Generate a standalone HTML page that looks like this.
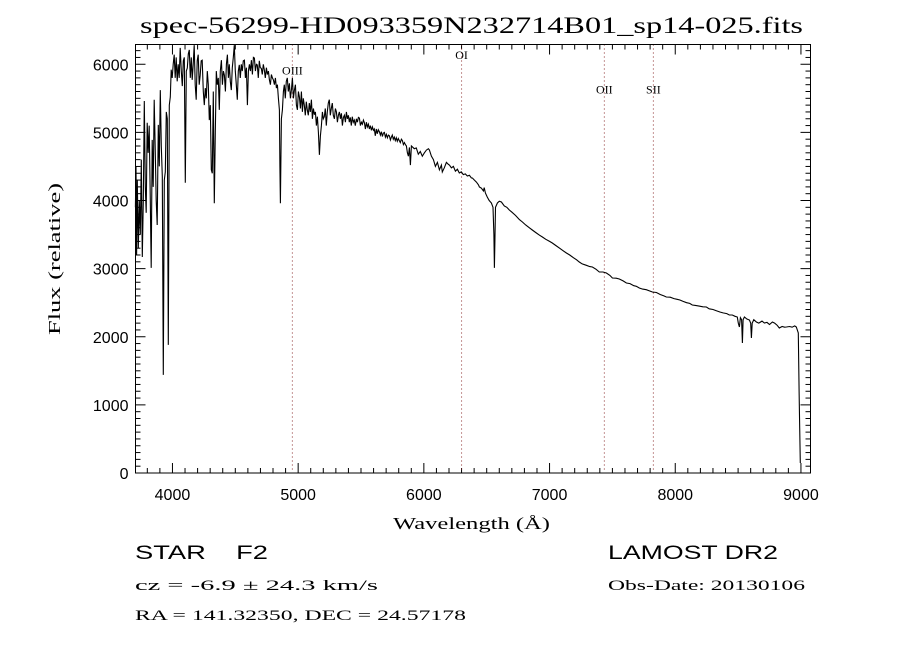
<!DOCTYPE html>
<html><head><meta charset="utf-8"><style>
html,body{margin:0;padding:0;background:#fff;}
svg{display:block;}
text{fill:#000;}
.serif{font-family:"Liberation Serif",serif;}
.sans{font-family:"Liberation Sans",sans-serif;}
</style></head><body>
<svg id="chart" width="900" height="650" viewBox="0 0 900 650" xmlns="http://www.w3.org/2000/svg">
<rect width="900" height="650" fill="#fff"/>
<text class="serif" x="140" y="33" font-size="23" textLength="663" lengthAdjust="spacingAndGlyphs">spec-56299-HD093359N232714B01_sp14-025.fits</text>
<text class="serif" x="0" y="0" font-size="17" text-anchor="middle" textLength="152" lengthAdjust="spacingAndGlyphs" transform="translate(60,259) rotate(-90)">Flux (relative)</text>
<text class="serif" x="393" y="529" font-size="17" textLength="157" lengthAdjust="spacingAndGlyphs">Wavelength (Å)</text>
<g id="axes"></g>
<g id="lines"></g>
<g id="series"></g>
<rect x="135.5" y="44.5" width="675" height="428.5" fill="none" stroke="#000" stroke-width="1"/>
<text class="sans" x="135" y="559" font-size="19" textLength="133" lengthAdjust="spacingAndGlyphs">STAR&#160;&#160;&#160;&#160;F2</text>
<text class="serif" x="135" y="590" font-size="15" textLength="243" lengthAdjust="spacingAndGlyphs">cz = -6.9 ± 24.3 km/s</text>
<text class="serif" x="135" y="620" font-size="15" textLength="331" lengthAdjust="spacingAndGlyphs">RA = 141.32350, DEC =  24.57178</text>
<text class="sans" x="608" y="559" font-size="19" textLength="170" lengthAdjust="spacingAndGlyphs">LAMOST DR2</text>
<text class="serif" x="608" y="590" font-size="15" textLength="197" lengthAdjust="spacingAndGlyphs">Obs-Date: 20130106</text>
</svg>
<script>
const xTicks = [4000,5000,6000,7000,8000,9000];
const yTicks = [0,1000,2000,3000,4000,5000,6000];
const lineNames = ["OIII","OI","OII","SII"];
const lineWaves = [4954,6300,7436,7826];
const lineLabelFlux = [5850,6080,5570,5570];
const wl = [3705,3710,3715,3720,3728,3736,3744,3752,3760,3768,3776,3784,3791,3799,3807,3815,3823,3831,3839,3847,3855,3863,3871,3879,3887,3895,3903,3911,3919,3927,3935,3943,3951,3959,3967,3975,3983,3990,3998,4006,4014,4022,4030,4038,4046,4054,4062,4070,4078,4086,4094,4102,4110,4118,4126,4134,4142,4150,4157,4165,4173,4181,4189,4197,4205,4213,4221,4229,4237,4245,4253,4261,4269,4277,4285,4293,4301,4309,4317,4325,4333,4341,4349,4357,4365,4373,4381,4389,4397,4405,4413,4421,4429,4437,4445,4452,4460,4468,4476,4484,4492,4500,4508,4516,4524,4532,4540,4548,4556,4564,4572,4580,4588,4596,4604,4612,4620,4628,4636,4644,4652,4660,4668,4675,4683,4691,4699,4707,4715,4723,4731,4739,4747,4755,4763,4771,4779,4787,4795,4803,4811,4819,4827,4835,4843,4851,4855,4859,4863,4867,4875,4883,4890,4898,4906,4914,4922,4930,4938,4946,4954,4962,4970,4978,4986,4994,5002,5010,5018,5026,5034,5041,5049,5057,5065,5073,5081,5089,5097,5105,5113,5121,5129,5137,5145,5153,5161,5169,5177,5185,5193,5200,5208,5216,5224,5232,5240,5248,5256,5264,5272,5280,5288,5296,5304,5312,5320,5328,5336,5344,5352,5360,5368,5376,5384,5392,5400,5407,5415,5423,5431,5439,5447,5455,5463,5471,5479,5487,5495,5503,5511,5519,5527,5535,5543,5551,5559,5567,5575,5583,5591,5599,5606,5614,5622,5630,5638,5646,5654,5662,5670,5678,5686,5694,5702,5710,5718,5726,5734,5742,5749,5757,5765,5773,5781,5789,5797,5805,5813,5821,5829,5837,5845,5853,5861,5869,5877,5885,5893,5901,5924,5940,5956,5972,5988,6004,6020,6036,6044,6060,6076,6092,6108,6124,6140,6147,6163,6179,6195,6203,6219,6235,6251,6267,6282,6298,6314,6330,6346,6362,6378,6386,6402,6418,6434,6442,6458,6474,6480,6490,6505,6520,6537,6550,6557,6561,6565,6570,6585,6600,6617,6640,6660,6680,6700,6730,6760,6784,6810,6840,6863,6890,6920,6943,6970,7000,7022,7050,7080,7110,7134,7160,7190,7215,7237,7260,7290,7320,7341,7370,7396,7425,7452,7480,7500,7530,7555,7585,7611,7640,7670,7690,7714,7740,7770,7800,7818,7850,7880,7910,7929,7960,7990,8015,8037,8060,8090,8115,8136,8160,8190,8220,8248,8270,8300,8330,8355,8380,8410,8430,8454,8475,8494,8502,8510,8518,8528,8534,8540,8550,8570,8590,8600,8606,8612,8625,8646,8665,8690,8709,8730,8750,8773,8790,8810,8828,8850,8870,8884,8910,8930,8950,8963,8979,8985,8990,8995];
const flux = [3900,4500,3200,4300,3300,4000,3500,4600,3170,4000,5460,4200,3820,5140,4700,5100,4100,3010,4890,4200,5480,4770,4000,3640,5110,4500,5620,4800,4350,1440,4300,4420,5300,5200,1880,5400,5520,5920,5800,6000,6140,5800,6100,5750,6000,5800,6240,5900,5680,6050,6100,4260,5900,5945,6150,6210,5800,6100,5770,6000,6280,5700,5480,6050,6140,5700,5840,6050,6060,5600,5400,5650,5500,5900,5700,5180,5400,4450,4400,5600,3960,5000,5900,5700,5800,5330,5900,6060,5700,5900,5840,5600,6000,6140,5800,6000,5750,5620,5950,6100,6280,5900,5700,5480,5900,5990,5800,6000,5900,6050,6060,5800,5950,5400,5900,6000,5900,6060,5850,6100,6090,5900,6000,5990,5800,6050,5950,5940,5850,6000,5920,5800,5950,5850,5900,5770,5700,5850,5800,5770,5700,5800,5650,5700,5500,5330,4500,3960,4600,5200,5330,5600,5700,5500,5750,5800,5600,5720,5500,5620,5800,5500,5620,5700,5400,5330,5600,5520,5350,5600,5300,5500,5400,5250,5450,5330,5250,5430,5300,5480,5200,5350,5260,5300,5100,5230,5000,4670,4950,5100,5300,5200,5230,5350,5100,5300,5430,5480,5250,5350,5430,5250,5200,5350,5300,5150,5250,5300,5200,5280,5100,5220,5250,5150,5300,5200,5250,5150,5220,5100,5230,5150,5180,5100,5200,5150,5220,5210,5100,5150,5120,5180,5140,5050,5150,5080,5120,5050,5100,5030,5080,5030,5050,4950,5050,4980,5040,5010,4960,5010,4940,4990,5000,4930,4970,4920,4960,4950,4890,4930,4960,4900,4930,4880,4920,4870,4910,4880,4850,4900,4880,4820,4850,4820,4800,4700,4650,4780,4520,4800,4760,4770,4680,4720,4650,4700,4740,4760,4742,4650,4600,4500,4560,4450,4520,4419,4480,4560,4530,4521,4480,4500,4430,4460,4404,4420,4380,4390,4360,4370,4330,4331,4300,4270,4230,4198,4180,4140,4190,4110,4050,4000,3964,3900,3500,3010,3400,3900,3964,3990,3978,3920,3900,3861,3830,3780,3720,3685,3640,3600,3567,3530,3490,3464,3430,3400,3376,3340,3300,3260,3230,3200,3160,3130,3097,3070,3050,3030,3024,2990,2951,2950,2936,2900,2863,2860,2848,2820,2789,2780,2750,2740,2716,2700,2690,2670,2657,2650,2620,2600,2584,2580,2560,2550,2540,2520,2500,2490,2466,2460,2450,2440,2437,2410,2400,2380,2363,2350,2340,2320,2319,2300,2290,2200,2143,2280,2250,1908,2250,2290,2260,2246,2200,1982,2200,2250,2217,2200,2230,2202,2210,2180,2217,2200,2170,2129,2150,2140,2143,2150,2140,2160,2143,2055,1200,660,147];

const X0=135.5, X1=810.5, Y0=473, Y1=44.5;
const xMin=3706, xMax=9076, yMin=0, yMax=6290;
function xs(w){return X0+(w-xMin)/(xMax-xMin)*(X1-X0);}
function ys(f){return Y0-(f-yMin)/(yMax-yMin)*(Y0-Y1);}
const NS='http://www.w3.org/2000/svg';
function mk(tag,attrs,parent){const e=document.createElementNS(NS,tag);for(const k in attrs)e.setAttribute(k,attrs[k]);parent.appendChild(e);return e;}

const axes=document.getElementById('axes');
for(let w=3800; w<=9000; w+=100){
  const x=xs(w); const major=(w%1000===0); const L=major?10:5;
  const t1=mk('line',{x1:x,x2:x,y1:Y0,y2:Y0-L,stroke:'#000','stroke-width':1},axes);
  
  
  const t2=mk('line',{x1:x,x2:x,y1:Y1,y2:Y1+L,stroke:'#000','stroke-width':1},axes);
  
  
}
xTicks.forEach(v=>{
  const t=mk('text',{x:xs(v),y:Y0+27,'font-size':16,'text-anchor':'middle','class':'sans'},axes);
  t.textContent=v;
  
  
});
for(let f=0; f<=6200; f+=100){
  const y=ys(f); const major=(f%1000===0); const L=major?10:5;
  const t1=mk('line',{x1:X0,x2:X0+L,y1:y,y2:y,stroke:'#000','stroke-width':1},axes);
  
  
  const t2=mk('line',{x1:X1,x2:X1-L,y1:y,y2:y,stroke:'#000','stroke-width':1},axes);
  
  
}
yTicks.forEach(v=>{
  const t=mk('text',{x:X0-7,y:ys(v)+6,'font-size':16,'text-anchor':'end','class':'sans'},axes);
  t.textContent=v;
  
  
});
const lg=document.getElementById('lines');
lineWaves.forEach((w,i)=>{
  const l=mk('line',{x1:xs(w),x2:xs(w),y1:Y1,y2:Y0,stroke:'#8b2a2a','stroke-width':1,'stroke-dasharray':'1,3'},lg);
  
  
  const t=mk('text',{x:xs(w),y:ys(lineLabelFlux[i]),'font-size':12,'text-anchor':'middle','class':'serif'},lg);
  t.textContent=lineNames[i];
  
  
});
const sg=document.getElementById('series');
let d='';
for(let i=0;i<wl.length;i++){d+=(i?'L':'M')+xs(wl[i]).toFixed(1)+' '+ys(flux[i]).toFixed(1);}
const p=mk('path',{d:d,fill:'none',stroke:'#000','stroke-width':1.1,'stroke-linejoin':'miter'},sg);


</script>
</body></html>
